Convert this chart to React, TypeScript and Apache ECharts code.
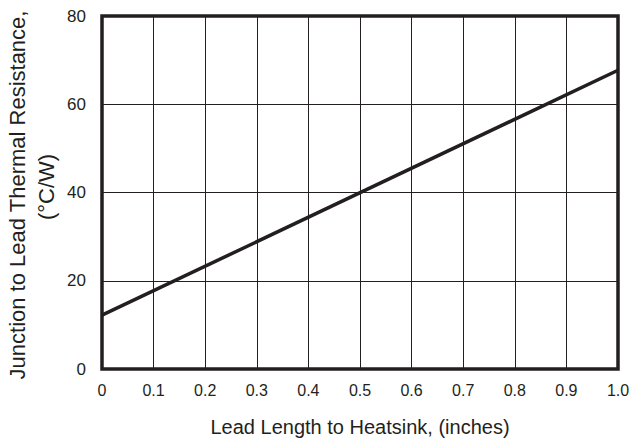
import React, { useEffect, useRef } from "react";
import * as echarts from "echarts";

const leadLength = [0, 1.0];
const resistance = [12.2, 67.7];
const xTicks = [0, 0.1, 0.2, 0.3, 0.4, 0.5, 0.6, 0.7, 0.8, 0.9, 1.0];
const yTicks = [0, 20, 40, 60, 80];
const xTitle = "Lead Length to Heatsink, (inches)";
const yTitleLine1 = "Junction to Lead Thermal Resistance,";
const yTitleLine2 = "(°C/W)";

const INK = "#231f20";
const FONT = "'Liberation Sans', Arial, Helvetica, sans-serif";

export default function App() {
  const ref = useRef<HTMLDivElement>(null);
  useEffect(() => {
    if (!ref.current) return;
    const chart = echarts.init(ref.current, undefined, { renderer: "svg" });
    chart.setOption({
      animation: false,
      backgroundColor: "#ffffff",
      textStyle: { fontFamily: FONT },
      grid: {
        left: 102,
        right: 16,
        top: 16,
        bottom: 70,
        show: true,
        borderColor: INK,
        borderWidth: 3.5,
        backgroundColor: "transparent",
      },
      xAxis: {
        type: "value",
        min: xTicks[0],
        max: xTicks[xTicks.length - 1],
        interval: 0.1,
        axisLine: { show: false },
        axisTick: { show: false },
        splitLine: { show: true, lineStyle: { color: INK, width: 1 } },
        axisLabel: {
          color: INK,
          fontSize: 16,
          fontFamily: FONT,
          margin: 13,
          formatter: (v: number) => {
            const t = xTicks.find((x) => Math.abs(x - v) < 1e-6);
            if (t === undefined) return "";
            return t === 0 ? "0" : t.toFixed(1);
          },
        },
        name: xTitle,
        nameLocation: "middle",
        nameGap: 48,
        nameTextStyle: { color: INK, fontSize: 20, fontFamily: FONT },
      },
      yAxis: {
        type: "value",
        min: yTicks[0],
        max: yTicks[yTicks.length - 1],
        interval: 20,
        axisLine: { show: false },
        axisTick: { show: false },
        splitLine: { show: true, lineStyle: { color: INK, width: 1 } },
        axisLabel: {
          color: INK,
          fontSize: 17,
          fontFamily: FONT,
          margin: 16,
        },
      },
      graphic: [
        {
          type: "text",
          x: 17,
          y: 195,
          rotation: Math.PI / 2,
          style: {
            text: yTitleLine1,
            fill: INK,
            font: `22px ${FONT}`,
            textAlign: "center",
            textVerticalAlign: "middle",
          },
        },
        {
          type: "text",
          x: 46,
          y: 187,
          rotation: Math.PI / 2,
          style: {
            text: yTitleLine2,
            fill: INK,
            font: `22px ${FONT}`,
            textAlign: "center",
            textVerticalAlign: "middle",
          },
        },
      ],
      series: [
        {
          type: "line",
          data: leadLength.map((x, i) => [x, resistance[i]]),
          showSymbol: false,
          lineStyle: { color: INK, width: 3.5 },
          z: 5,
        },
      ],
    });
    return () => chart.dispose();
  }, []);
  return (
    <div
      ref={ref}
      style={{ position: "fixed", left: 0, top: 0, width: 634, height: 442 }}
    />
  );
}
